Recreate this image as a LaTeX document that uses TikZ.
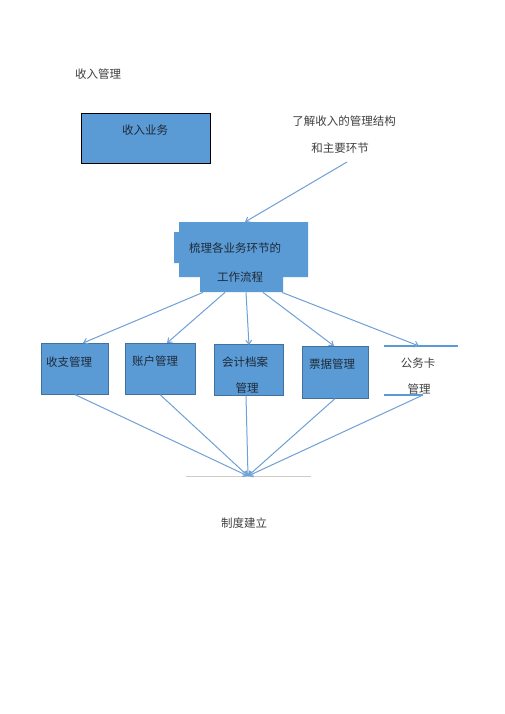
\documentclass[tikz,border=0pt]{standalone}
\usepackage{fontspec}
\setmainfont{Liberation Serif}
\newfontfamily\cjk{Noto Sans CJK SC}
\usetikzlibrary{arrows.meta}
\definecolor{boxfill}{HTML}{5B9BD5}
\definecolor{boxline}{HTML}{41719C}
\definecolor{arrowc}{HTML}{6FA1D6}
\definecolor{txtc}{HTML}{404040}
\definecolor{boxtxt}{HTML}{1E2A38}
\tikzset{
  lbl/.style={font=\cjk\fontsize{11.5}{13}\selectfont, text=txtc, inner sep=0pt},
  btxt/.style={font=\cjk\fontsize{11.5}{13}\selectfont, text=boxtxt, inner sep=0pt},
  bluebox/.style={draw=boxline, line width=0.6pt, fill=boxfill, inner sep=0pt},
  conn/.style={draw=arrowc, line width=1pt, -{Straight Barb[length=4pt,width=6pt]}},
  cardline/.style={draw=boxfill, line width=1.6pt},
}
\begin{document}
\begin{tikzpicture}[x=1pt,y=-1pt]
\useasboundingbox[fill=white] (0,0) rectangle (505,714);

% title
\node[lbl] (title) at (98,74) {收入管理};

% top-left box
\node[draw=black, line width=1.2pt, fill=boxfill, minimum width=129pt, minimum height=50pt, inner sep=0pt, anchor=north west] (biz) at (81,113) {};
\node[btxt] (biztxt) at (145,130) {收入业务};

% comment text
\node[lbl] (note1) at (344,121) {了解收入的管理结构};
\node[lbl] (note2) at (340,148) {和主要环节};
\coordinate (notefoot) at (347,162);

% flow node (composite shape)
\fill[boxfill] (179,222) -- (308,222) -- (308,277) -- (283,277) -- (283,292) -- (200,292) -- (200,277) -- (179,277) -- (179,263) -- (174,263) -- (174,232) -- (179,232) -- cycle;
\node[minimum width=129pt, minimum height=55pt, inner sep=0pt, anchor=north west] (flow) at (179,222) {};
\node[minimum width=83pt, minimum height=15pt, inner sep=0pt, anchor=north west] (flowbot) at (200,277) {};
\node[btxt] (flowt1) at (235,248) {梳理各业务环节的};
\node[btxt] (flowt2) at (240,277) {工作流程};

\draw[conn] (notefoot) -- ([xshift=66pt]flow.north west);

% second row boxes
\node[bluebox, minimum width=67pt, minimum height=51pt, anchor=north west] (b1) at (41,343) {};
\node[btxt] (b1t) at (69,362) {收支管理};
\node[bluebox, minimum width=70pt, minimum height=51pt, anchor=north west] (b2) at (125,343) {};
\node[btxt] (b2t) at (155,361) {账户管理};
\node[bluebox, minimum width=69pt, minimum height=51pt, anchor=north west] (b3) at (214,344) {};
\node[btxt] (b3t) at (245,362) {会计档案};
\node[btxt] (b3u) at (247,388) {管理};
\node[bluebox, minimum width=66pt, minimum height=52pt, anchor=north west] (b4) at (302,346) {};
\node[btxt] (b4t) at (332,364) {票据管理};

% card (open shape)
\coordinate (cardtl) at (384,346);
\coordinate (cardtr) at (458,346);
\coordinate (cardbl) at (384,395);
\coordinate (cardbr) at (423,395);
\draw[cardline] (cardtl) -- (cardtr);
\draw[cardline] (cardbl) -- (cardbr);
\node[lbl] (b5t) at (418,363) {公务卡};
\node[lbl] (b5u) at (419,389) {管理};

% arrows from flow
\draw[conn] ([xshift=3pt]flowbot.south west) -- ([xshift=42pt]b1.north west);
\draw[conn] ([xshift=25pt]flowbot.south west) -- ([xshift=42pt]b2.north west);
\draw[conn] ([xshift=46pt]flowbot.south west) -- ([xshift=35pt,yshift=-1pt]b3.north west);
\draw[conn] ([xshift=63pt]flowbot.south west) -- ([xshift=32pt]b4.north west);
\draw[conn] ([xshift=82pt]flowbot.south west) -- ([xshift=35pt]cardtl);

% convergence
\coordinate (conv) at (248,476);
\coordinate (baseL) at (186,476);
\coordinate (baseR) at (311,476);
\draw[draw=gray!40, line width=0.6pt] (baseL) -- (baseR);

\draw[conn] ([xshift=34pt]b1.south west) -- (conv);
\draw[conn] ([xshift=35pt]b2.south west) -- (conv);
\draw[conn] ([xshift=32pt]b3.south west) -- (conv);
\draw[conn] ([xshift=33pt]b4.south west) -- (conv);
\draw[conn] (cardbr) -- (conv);

\node[lbl] (rule) at (244,523) {制度建立};
\end{tikzpicture}
\end{document}
